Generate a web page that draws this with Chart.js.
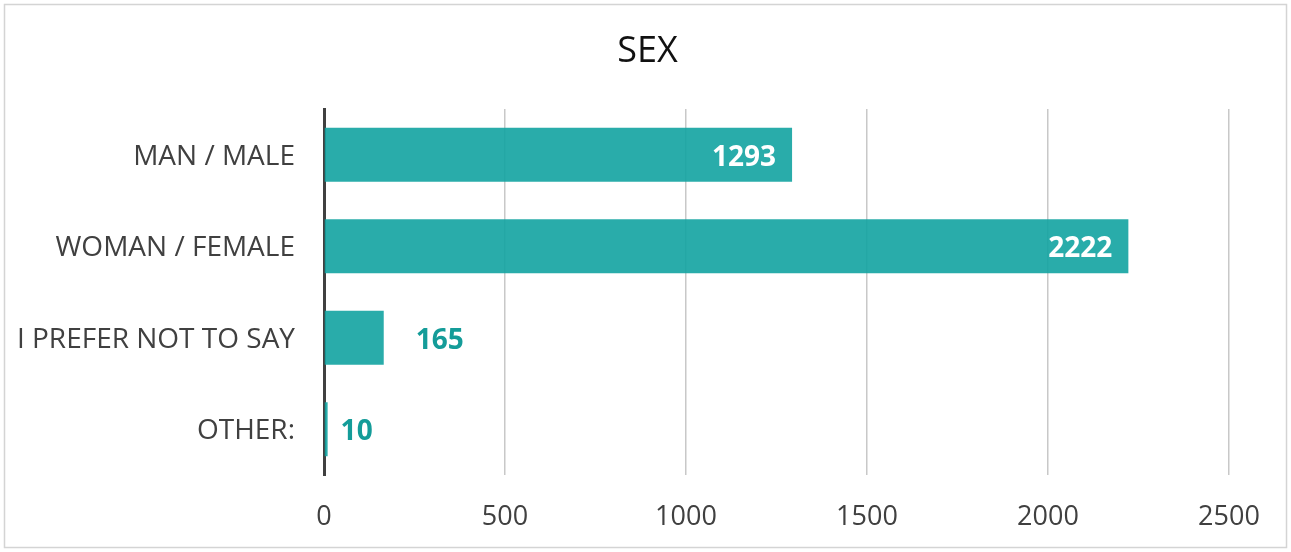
<!DOCTYPE html>
<html>
<head>
<meta charset="utf-8">
<script src="https://cdn.jsdelivr.net/npm/chart.js@4"></script>
<style>
    html, body { margin: 0; padding: 0; background: #fff; }
    #wrap { position: relative; width: 1291px; height: 552px; }
</style>
</head>
<body>
<div id="wrap"><canvas id="sex-chart" width="1291" height="552"></canvas></div>
<script>
const chartTitle = 'SEX';
const categories = ['MAN / MALE', 'WOMAN / FEMALE', 'I PREFER NOT TO SAY', 'OTHER:'];
const counts = [1293, 2222, 165, 10];
const xTicks = [0, 500, 1000, 1500, 2000, 2500];

const font = '"Open Sans", "Noto Sans", sans-serif';

// white frame round the whole chart, title centred on the full width
const framePlugin = {
    id: 'frame',
    beforeDraw(chart) {
        const ctx = chart.ctx;
        ctx.save();
        ctx.fillStyle = '#fff';
        ctx.fillRect(0, 0, chart.width, chart.height);
        ctx.strokeStyle = '#d4d4d4';
        ctx.lineWidth = 1.5;
        ctx.strokeRect(4.5, 4.5, chart.width - 9, chart.height - 9);
        ctx.fillStyle = '#111';
        ctx.font = '36px ' + font;
        ctx.textAlign = 'center';
        ctx.textBaseline = 'middle';
        ctx.fillText(chartTitle, chart.width / 2 + 2, 52);
        ctx.restore();
    }
};

// value labels: inside end for long bars, outside end for short ones
const valueLabels = {
    id: 'valueLabels',
    afterDatasetsDraw(chart, args, opts) {
        const ctx = chart.ctx;
        const meta = chart.getDatasetMeta(0);
        ctx.save();
        ctx.font = 'bold 28px ' + font;
        ctx.textBaseline = 'middle';
        meta.data.forEach(function(bar, i) {
            const v = chart.data.datasets[0].data[i];
            if (v > 500) {
                ctx.fillStyle = '#ffffff';
                ctx.textAlign = 'right';
                ctx.fillText(String(v), bar.x - 16, bar.y + 3);
            } else {
                ctx.fillStyle = '#149c99';
                ctx.textAlign = 'left';
                ctx.fillText(String(v), bar.x + opts.offsets[i], bar.y + 3);
            }
        });
        ctx.restore();
    }
};

new Chart(document.getElementById('sex-chart'), {
    type: 'bar',
    data: {
        labels: categories,
        datasets: [{
            data: counts,
            backgroundColor: 'rgba(18, 163, 161, 0.9)',
            borderWidth: 0,
            barPercentage: 0.59,
            categoryPercentage: 1.0
        }]
    },
    options: {
        indexAxis: 'y',
        responsive: false,
        animation: false,
        layout: { padding: { left: 0, right: 62, top: 109, bottom: 0 } },
        plugins: {
            legend: { display: false },
            tooltip: { enabled: false },
            title: { display: false },
            valueLabels: { offsets: [14, 14, 32, 13] }
        },
        scales: {
            x: {
                min: 0,
                max: 2500,
                afterBuildTicks: function(scale) {
                    scale.ticks = xTicks.map(function(v) { return { value: v }; });
                },
                grid: { color: '#c8c8c8', lineWidth: 1.5, drawTicks: false },
                border: { display: false },
                ticks: {
                    color: '#404040',
                    padding: 26,
                    maxRotation: 0,
                    font: { family: font, size: 27 },
                    callback: function(v) { return String(v); }
                },
                afterFit: function(scale) { scale.height = 77; }
            },
            y: {
                grid: { display: false, drawTicks: false },
                border: { display: true, color: '#404040', width: 3 },
                ticks: {
                    color: '#404040',
                    padding: 29,
                    labelOffset: 2,
                    font: { family: font, size: 28 }
                },
                afterFit: function(scale) { scale.width = 324; }
            }
        }
    },
    plugins: [framePlugin, valueLabels]
});
</script>
</body>
</html>
